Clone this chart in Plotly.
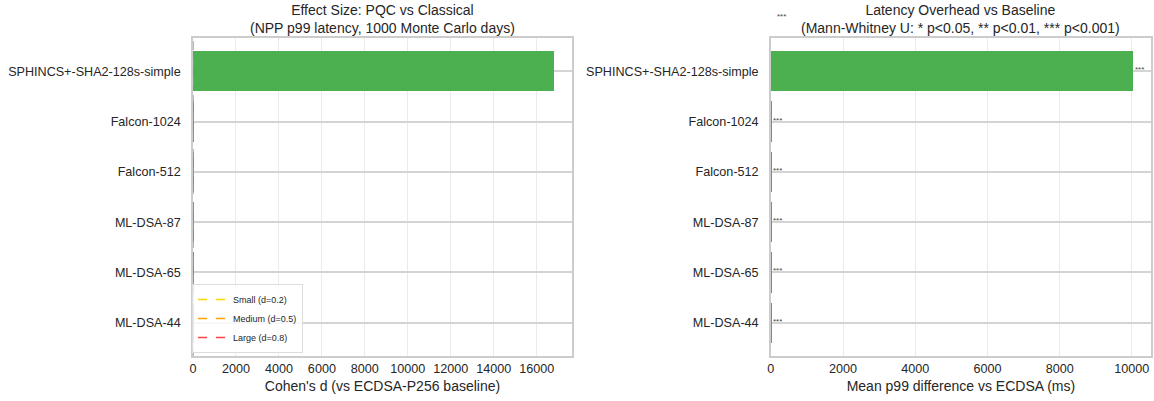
import plotly.graph_objects as go

# ---- data ----
schemes = ["ML-DSA-44", "ML-DSA-65", "ML-DSA-87", "Falcon-512", "Falcon-1024", "SPHINCS+-SHA2-128s-simple"]
cohens_d = [2.1, 3.4, 5.8, 4.2, 7.5, 16800]
mean_diff_ms = [2.1, 3.5, 5.2, 4.0, 6.8, 10020]
sig_labels = ["***", "***", "***", "***", "***", "***"]
bar_colors = ["#4CAF50", "#4CAF50", "#4CAF50", "#4CAF50", "#4CAF50", "#4CAF50"]
thresholds = [0.2, 0.5, 0.8]
threshold_names = ["Small (d=0.2)", "Medium (d=0.5)", "Large (d=0.8)"]
threshold_colors = ["#FFD700", "#FFA500", "#FF4444"]
left_ticks = [0, 2000, 4000, 6000, 8000, 10000, 12000, 14000, 16000]
right_ticks = [0, 2000, 4000, 6000, 8000, 10000]

FONT = "Liberation Sans, Arial, sans-serif"
TXT = "#262626"
FRAME = "#cccccc"
GRID_X = "#ebebeb"
GRID_Y = "#d4d4d4"

W, H = 1154, 401

fig = go.Figure()

fig.add_trace(go.Bar(x=cohens_d, y=schemes, orientation="h", width=0.8,
                     marker=dict(color=bar_colors, line=dict(width=0)),
                     showlegend=False, xaxis="x", yaxis="y"))
fig.add_trace(go.Bar(x=mean_diff_ms, y=schemes, orientation="h", width=0.8,
                     marker=dict(color=bar_colors, line=dict(width=0)),
                     showlegend=False, xaxis="x2", yaxis="y2"))

shapes = []
for t, n, c in zip(thresholds, threshold_names, threshold_colors):
    shapes.append(dict(type="line", xref="x", yref="y domain", x0=t, x1=t, y0=0, y1=1,
                       line=dict(color=c, width=1.5, dash="dash"), opacity=0.5))
    fig.add_trace(go.Scatter(x=[None], y=[None], mode="lines", name=n,
                             line=dict(color=c, width=1.5, dash="dash"),
                             xaxis="x", yaxis="y", showlegend=True))

annotations = []
for s, v, lab in zip(schemes, mean_diff_ms, sig_labels):
    annotations.append(dict(x=v, y=s, xref="x2", yref="y2", text=lab, showarrow=False,
                            xanchor="left", yanchor="bottom", yshift=-5,
                            font=dict(size=8, color="#444444", family=FONT)))
annotations.append(dict(x=0.6716, y=0.96, xref="paper", yref="paper", text="***",
                        showarrow=False, xanchor="left", yanchor="middle",
                        font=dict(size=8, color="#444444", family=FONT)))

titles = [("Effect Size: PQC vs Classical<br>(NPP p99 latency, 1000 Monte Carlo days)", 0.3315),
          ("Latency Overhead vs Baseline<br>(Mann-Whitney U: * p<0.05, ** p<0.01, *** p<0.001)", 0.8327)]
for t, xc in titles:
    annotations.append(dict(x=xc, y=0.905, xref="paper", yref="paper", text=t, showarrow=False,
                            xanchor="center", yanchor="bottom",
                            font=dict(size=14, color=TXT, family=FONT)))

xaxis_common = dict(showgrid=True, gridcolor=GRID_X, gridwidth=1, zeroline=False,
                    showline=True, linecolor=FRAME, linewidth=1.5, mirror=True,
                    ticks="", tickfont=dict(size=12.6, color=TXT, family=FONT),
                    title_font=dict(size=14, color=TXT, family=FONT), title_standoff=6,
                    automargin=False)
yaxis_common = dict(showgrid=True, gridcolor=GRID_Y, gridwidth=1.5, zeroline=False,
                    showline=True, linecolor=FRAME, linewidth=1.5, mirror=True,
                    ticks="", tickfont=dict(size=12.6, color=TXT, family=FONT),
                    range=[-0.66, 5.66], categoryorder="array", categoryarray=schemes,
                    ticklabelstandoff=8, automargin=False)

fig.update_layout(
    width=W, height=H,
    margin=dict(l=0, r=0, t=0, b=0),
    paper_bgcolor="white", plot_bgcolor="white",
    font=dict(family=FONT, color=TXT),
    bargap=0,
    xaxis=dict(domain=[0.1672, 0.4957], range=[0, 17640], tickvals=left_ticks,
               ticktext=[str(v) for v in left_ticks],
               title_text="Cohen's d (vs ECDSA-P256 baseline)", anchor="y", **xaxis_common),
    yaxis=dict(domain=[0.1122, 0.9052], anchor="x", **yaxis_common),
    xaxis2=dict(domain=[0.668, 0.9974], range=[0, 10530], tickvals=right_ticks,
                ticktext=[str(v) for v in right_ticks],
                title_text="Mean p99 difference vs ECDSA (ms)", anchor="y2", **xaxis_common),
    yaxis2=dict(domain=[0.1122, 0.9052], anchor="x2", **yaxis_common),
    legend=dict(x=0.1664, y=0.12, xanchor="left", yanchor="bottom",
                bgcolor="rgba(255,255,255,0.8)", bordercolor="#dddddd", borderwidth=1,
                font=dict(size=9, color=TXT, family=FONT), tracegroupgap=0, itemwidth=30),
    shapes=shapes,
    annotations=annotations,
)

fig.write_html("out.html",
               config={"displayModeBar": False},
               post_script="document.body.style.margin='0';document.body.style.overflow='hidden';")
